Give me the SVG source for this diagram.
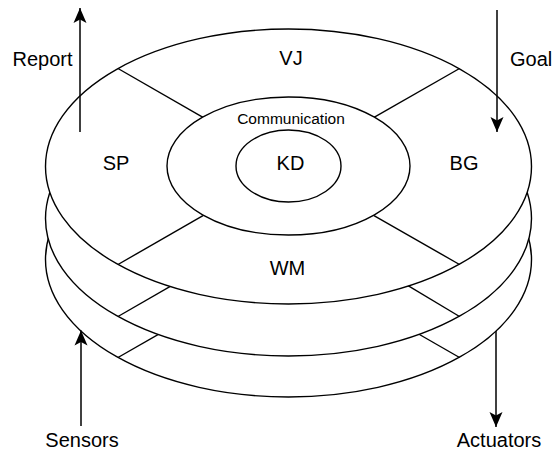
<svg xmlns="http://www.w3.org/2000/svg" width="557" height="452" viewBox="0 0 557 452">
  <style>
    .disc { fill: #ffffff; stroke: #000000; stroke-width: 1.4; }
    .div { fill: none; stroke: #000000; stroke-width: 1.4; }
    .flow { fill: none; stroke: #000000; stroke-width: 1.5; marker-end: url(#head); }
    .lbl { font-family: "Liberation Sans", Arial, sans-serif; font-size: 20px; fill: #000000; }
    .small { font-size: 15.5px; }
    .mid { text-anchor: middle; }
  </style>
  <defs>
    <marker id="head" viewBox="-16 -8 18 16" refX="0" refY="0" markerWidth="18" markerHeight="16" markerUnits="userSpaceOnUse" orient="auto">
      <path d="M0,0 L-15,-6.5 L-11.5,0 L-15,6.5 Z" fill="#000000"/>
    </marker>
  </defs>

  <!-- bottom layer: its dividers start under the middle disc, which hides the inner part -->
  <g id="layer-3">
    <ellipse class="disc" cx="288.5" cy="259.5" rx="243" ry="137.5"/>
    <line class="div" x1="168" y1="328.8" x2="118" y2="357.5"/>
    <line class="div" x1="409" y1="328.5" x2="459.5" y2="357.5"/>
  </g>

  <!-- middle layer: dividers start under the top disc -->
  <g id="layer-2">
    <ellipse class="disc" cx="288.5" cy="218.5" rx="243" ry="137.5"/>
    <line class="div" x1="182" y1="279.7" x2="118" y2="316.5"/>
    <line class="div" x1="398" y1="279.6" x2="459.5" y2="316.5"/>
  </g>

  <!-- top layer with its four sectors -->
  <g id="layer-1">
    <ellipse class="disc" cx="288.5" cy="166.5" rx="243" ry="137.5"/>
    <line class="div" x1="203" y1="117.4" x2="118" y2="68.5"/>
    <line class="div" x1="374" y1="117.4" x2="459.5" y2="68.5"/>
    <line class="div" x1="203" y1="215.6" x2="118" y2="264.5"/>
    <line class="div" x1="374" y1="215.6" x2="459.5" y2="264.5"/>
    <text class="lbl mid" x="291" y="65">VJ</text>
    <text class="lbl mid" x="116" y="170">SP</text>
    <text class="lbl mid" x="464" y="170">BG</text>
    <text class="lbl mid" x="287.5" y="275">WM</text>
  </g>

  <g id="communication">
    <ellipse class="disc" cx="288.5" cy="166" rx="121.5" ry="69"/>
    <text class="lbl small mid" x="291" y="124">Communication</text>
  </g>

  <g id="kd">
    <ellipse class="disc" cx="288.5" cy="166" rx="52.5" ry="36"/>
    <text class="lbl mid" x="290.5" y="170">KD</text>
  </g>

  <!-- inputs and outputs -->
  <g id="connectors">
    <line class="flow" x1="80" y1="132" x2="80" y2="8"/>
    <line class="flow" x1="497" y1="10" x2="497" y2="132"/>
    <line class="flow" x1="81" y1="426" x2="81" y2="330.5"/>
    <line class="flow" x1="496" y1="331" x2="496" y2="427"/>
  </g>

  <g id="io-labels">
    <text class="lbl" x="12.5" y="66">Report</text>
    <text class="lbl" x="510" y="66">Goal</text>
    <text class="lbl mid" x="82" y="447">Sensors</text>
    <text class="lbl mid" x="499" y="447">Actuators</text>
  </g>
</svg>
